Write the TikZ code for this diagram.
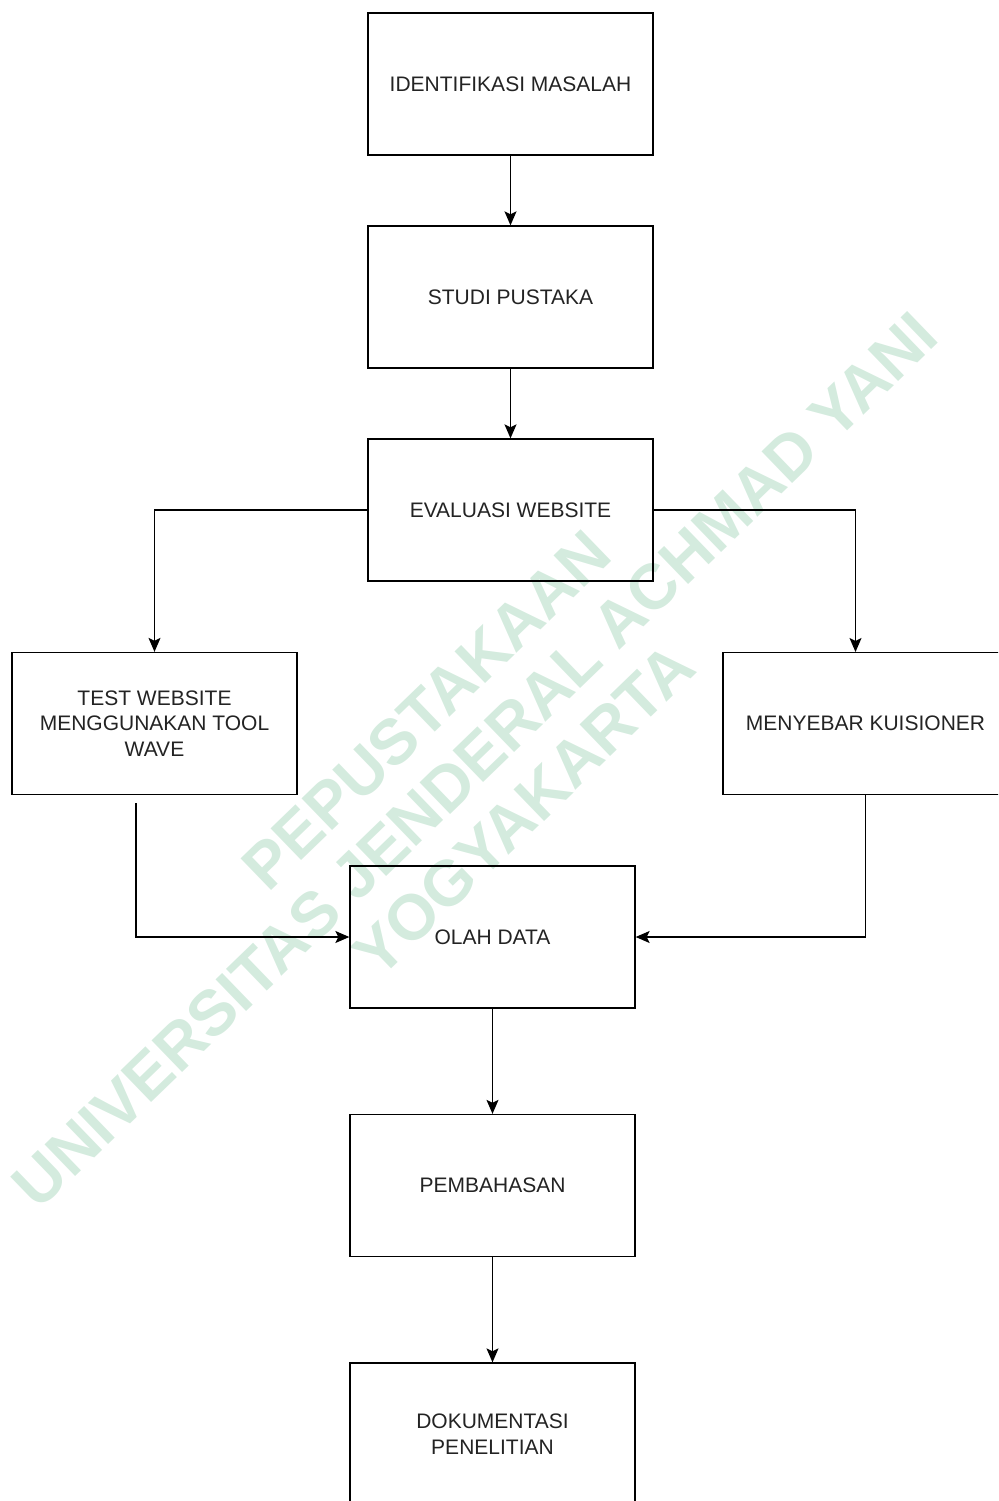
\documentclass[tikz,border=0pt]{standalone}
\usepackage{fontspec}
\setmainfont{Liberation Sans}
\usetikzlibrary{arrows.meta,calc}
\definecolor{wmgreen}{RGB}{212,235,222}
\definecolor{txtgray}{RGB}{35,35,35}

\begin{document}
\begin{tikzpicture}[x=1pt,y=-1pt,
	box/.style={draw, line width=1.3pt, minimum width=285pt, minimum height=142pt, inner sep=0pt, align=center, text=txtgray, font=\fontsize{21}{25.5}\selectfont},
	flow/.style={line width=1.3pt, -{Stealth[length=14pt,width=12pt,inset=3pt]}}]
	\useasboundingbox (0,0) rectangle (998,1501);
	\clip (0,0) rectangle (998,1501);
	
	% watermark
	\node[rotate=44, text=wmgreen, align=center, font=\fontsize{64}{70}\selectfont\bfseries] (wm) at (475,760)
		{PEPUSTAKAAN\\UNIVERSITAS JENDERAL ACHMAD YANI\\YOGYAKARTA};
	
	\def\cx{510.5} % centre column
	\def\dx{492.5} % lower column
	
	% top column
	\node[box] (ident) at (\cx,84) {IDENTIFIKASI MASALAH};
	\node[box] (studi) at (\cx,297) {STUDI PUSTAKA};
	\node[box] (eval) at (\cx,510) {EVALUASI WEBSITE};
	
	% two branches
	\node[box] (test) at (154.5,723.5) {TEST WEBSITE\\MENGGUNAKAN TOOL\\WAVE};
	\node[box] (sebar) at (865.5,723.5) {MENYEBAR KUISIONER};
	
	% lower column
	\node[box] (olah) at (\dx,937) {OLAH DATA};
	\node[box] (bahas) at (\dx,1185.5) {PEMBAHASAN};
	\node[box] (doku) at (\dx,1434) {DOKUMENTASI\\PENELITIAN};
	
	% free ends
	\coordinate (sebarin) at (855.5,652);
	\coordinate (testout) at (136,803);
	
	\draw[flow] (ident) -- (studi);
	\draw[flow] (studi) -- (eval);
	\draw[flow] (eval.west) -| (test.north);
	\draw[flow] (eval.east) -| (sebarin);
	\draw[flow] (testout) |- (olah.west);
	\draw[flow] (sebar.south) |- (olah.east);
	\draw[flow] (olah) -- (bahas);
	\draw[flow] (bahas) -- (doku);
\end{tikzpicture}
\end{document}
